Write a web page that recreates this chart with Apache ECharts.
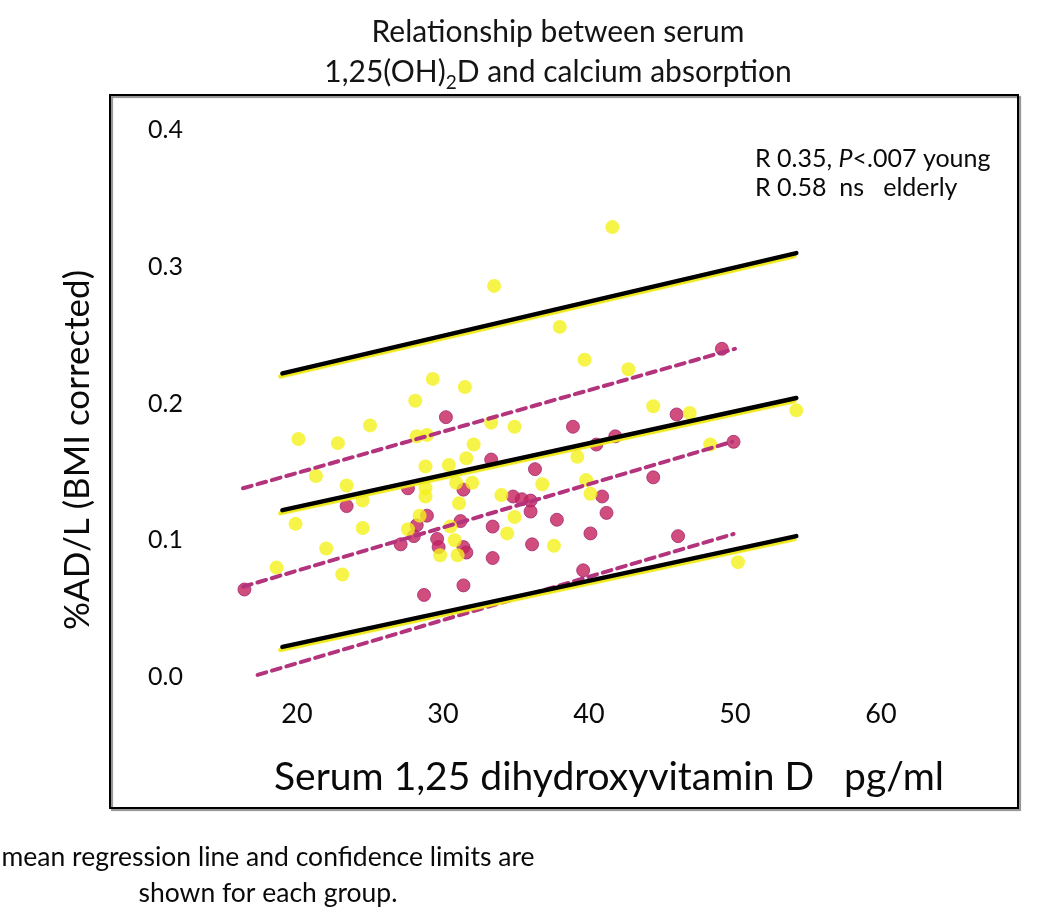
<!DOCTYPE html>
<html><head><meta charset="utf-8">
<script src="https://cdn.jsdelivr.net/npm/echarts@6/dist/echarts.min.js"></script>
<style>html,body{margin:0;padding:0;background:#fff}#c{width:1050px;height:908px}</style>
</head><body><div id="c"></div>
<script>
// ---- data ----
const xTicks = [20, 30, 40, 50, 60];
const yTicks = [0.0, 0.1, 0.2, 0.3, 0.4];

// young subjects (yellow)
const youngX = [41.6,33.5,38.0,39.7,42.7,29.3,31.5,28.1,44.4,46.9,54.2,25.0,33.3,34.9,28.9,28.2,20.1,22.8,32.1,48.3,
  31.6,39.2,30.4,28.8,21.3,23.4,30.9,32.0,36.8,39.8,28.8,28.8,34.0,40.1,24.5,31.1,28.4,34.9,30.5,19.9,
  24.5,27.6,34.4,30.8,37.6,22.0,29.8,31.0,50.2,18.6,23.1];
const youngY = [0.329,0.286,0.256,0.232,0.225,0.218,0.212,0.202,0.198,0.193,0.195,0.184,0.186,0.183,0.177,0.176,0.174,0.171,0.170,0.170,
  0.160,0.161,0.155,0.154,0.147,0.140,0.142,0.142,0.141,0.144,0.138,0.132,0.133,0.134,0.129,0.127,0.118,0.117,0.110,0.112,
  0.109,0.108,0.105,0.100,0.096,0.094,0.089,0.089,0.084,0.080,0.075];

// elderly subjects (magenta)
const elderlyX = [49.1,30.2,46.0,38.9,41.8,40.5,49.9,33.3,36.3,44.4,27.6,31.4,40.9,34.8,35.4,36.0,36.0,23.4,41.2,28.9,
  37.8,31.2,28.2,33.4,40.1,46.1,28.0,29.6,36.1,27.1,29.7,31.4,31.6,33.4,39.6,31.4,16.4,28.7];
const elderlyY = [0.240,0.190,0.192,0.183,0.176,0.170,0.172,0.159,0.152,0.146,0.138,0.137,0.132,0.132,0.130,0.129,0.121,0.125,0.120,0.118,
  0.115,0.114,0.111,0.110,0.105,0.103,0.103,0.101,0.097,0.097,0.095,0.095,0.091,0.087,0.078,0.067,0.064,0.060];

// regression lines (end points)
const youngLineX = [19.0, 54.2];
const youngUpper = [0.222, 0.310];
const youngMean  = [0.122, 0.204];
const youngLower = [0.022, 0.103];
const elderlyUpperX = [16.3, 50.0], elderlyUpper = [0.138, 0.240];
const elderlyMeanX  = [16.3, 49.8], elderlyMean  = [0.066, 0.172];
const elderlyLowerX = [17.3, 49.9], elderlyLower = [0.0015, 0.1046];

const zip = (xs, ys) => xs.map((x, i) => [x, ys[i]]);

const FONT = 'Lato, "Open Sans", sans-serif';
const INK = '#0a0a0a';
const chart = echarts.init(document.getElementById('c'), null, {renderer: 'canvas'});

function solidLine(xs, ys) {
  return {type: 'line', data: zip(xs, ys), symbol: 'none', silent: true, z: 5,
    lineStyle: {color: '#000', width: 4.5, cap: 'round', shadowColor: '#efe81a', shadowBlur: 1, shadowOffsetX: -2, shadowOffsetY: 3}};
}
function dashLine(xs, ys) {
  return {type: 'line', data: zip(xs, ys), symbol: 'none', silent: true, z: 4,
    lineStyle: {color: '#b3337d', width: 4, type: [9, 6], cap: 'round'}};
}

chart.setOption({
  animation: false,
  backgroundColor: '#fff',
  textStyle: {fontFamily: FONT},
  grid: {left: 151, top: 130, width: 803, bottom: 94.25, containLabel: false},
  xAxis: {
    type: 'value', min: 10, max: 65, interval: 10, offset: -136.75,
    axisLine: {show: false, onZero: false}, axisTick: {show: false}, splitLine: {show: false},
    axisLabel: {margin: 24, fontSize: 27, color: INK, fontFamily: FONT,
      formatter: v => xTicks.includes(v) ? String(v) : ''}
  },
  yAxis: {
    type: 'value', min: -0.1, max: 0.4, interval: 0.1, offset: -40,
    axisLine: {show: false}, axisTick: {show: false}, splitLine: {show: false},
    axisLabel: {margin: 8, fontSize: 25, color: INK, fontFamily: FONT,
      formatter: v => yTicks.some(t => Math.abs(t - v) < 1e-6) ? v.toFixed(1) : ''}
  },
  series: [
    {type: 'scatter', data: zip(elderlyX, elderlyY), symbolSize: 13, z: 2,
      itemStyle: {color: '#c6205c', borderColor: '#a12a72', borderWidth: 1}},
    {type: 'scatter', data: zip(youngX, youngY), symbolSize: 14, z: 3,
      itemStyle: {color: '#f4f11a'}},
    dashLine(elderlyUpperX, elderlyUpper),
    dashLine(elderlyMeanX, elderlyMean),
    dashLine(elderlyLowerX, elderlyLower),
    solidLine(youngLineX, youngUpper),
    solidLine(youngLineX, youngMean),
    solidLine(youngLineX, youngLower)
  ],
  graphic: [
    {type: 'rect', shape: {x: 110, y: 95, width: 908, height: 713}, z: 0, silent: true,
      style: {fill: null, stroke: '#000', lineWidth: 2, shadowColor: 'rgba(0,0,0,0.45)', shadowOffsetX: 2, shadowOffsetY: 2, shadowBlur: 1}},
    {type: 'text', x: 558, y: 12, z: 10, silent: true,
      style: {text: 'Relationship between serum\n1,25(OH){sub|2}D and calcium absorption', align: 'center',
        font: '30px ' + FONT, fill: '#141414', lineHeight: 40,
        rich: {sub: {fontSize: 19, verticalAlign: 'bottom', lineHeight: 40, fontFamily: FONT, fill: '#141414'}}}},
    {type: 'text', x: 78, y: 450, rotation: Math.PI / 2, z: 10, silent: true,
      style: {text: '%AD/L (BMI corrected)', align: 'center', verticalAlign: 'middle', font: '35px ' + FONT, fill: INK}},
    {type: 'text', x: 609, y: 777, z: 10, silent: true,
      style: {text: 'Serum 1,25 dihydroxyvitamin D   pg/ml', align: 'center', verticalAlign: 'middle', font: '39px ' + FONT, fill: INK}},
    {type: 'text', x: 755, y: 144, z: 10, silent: true,
      style: {text: 'R 0.35, {i|P}<.007 young\nR 0.58  ns   elderly', font: '25px ' + FONT, fill: INK, lineHeight: 29,
        rich: {i: {fontStyle: 'italic', fontSize: 25, fontFamily: FONT, fill: INK}}}},
    {type: 'text', x: 268, y: 839, z: 10, silent: true,
      style: {text: 'mean regression line and confidence limits are\nshown for each group.', align: 'center',
        font: '26.5px ' + FONT, fill: INK, lineHeight: 36}}
  ]
});
</script>
</body></html>
